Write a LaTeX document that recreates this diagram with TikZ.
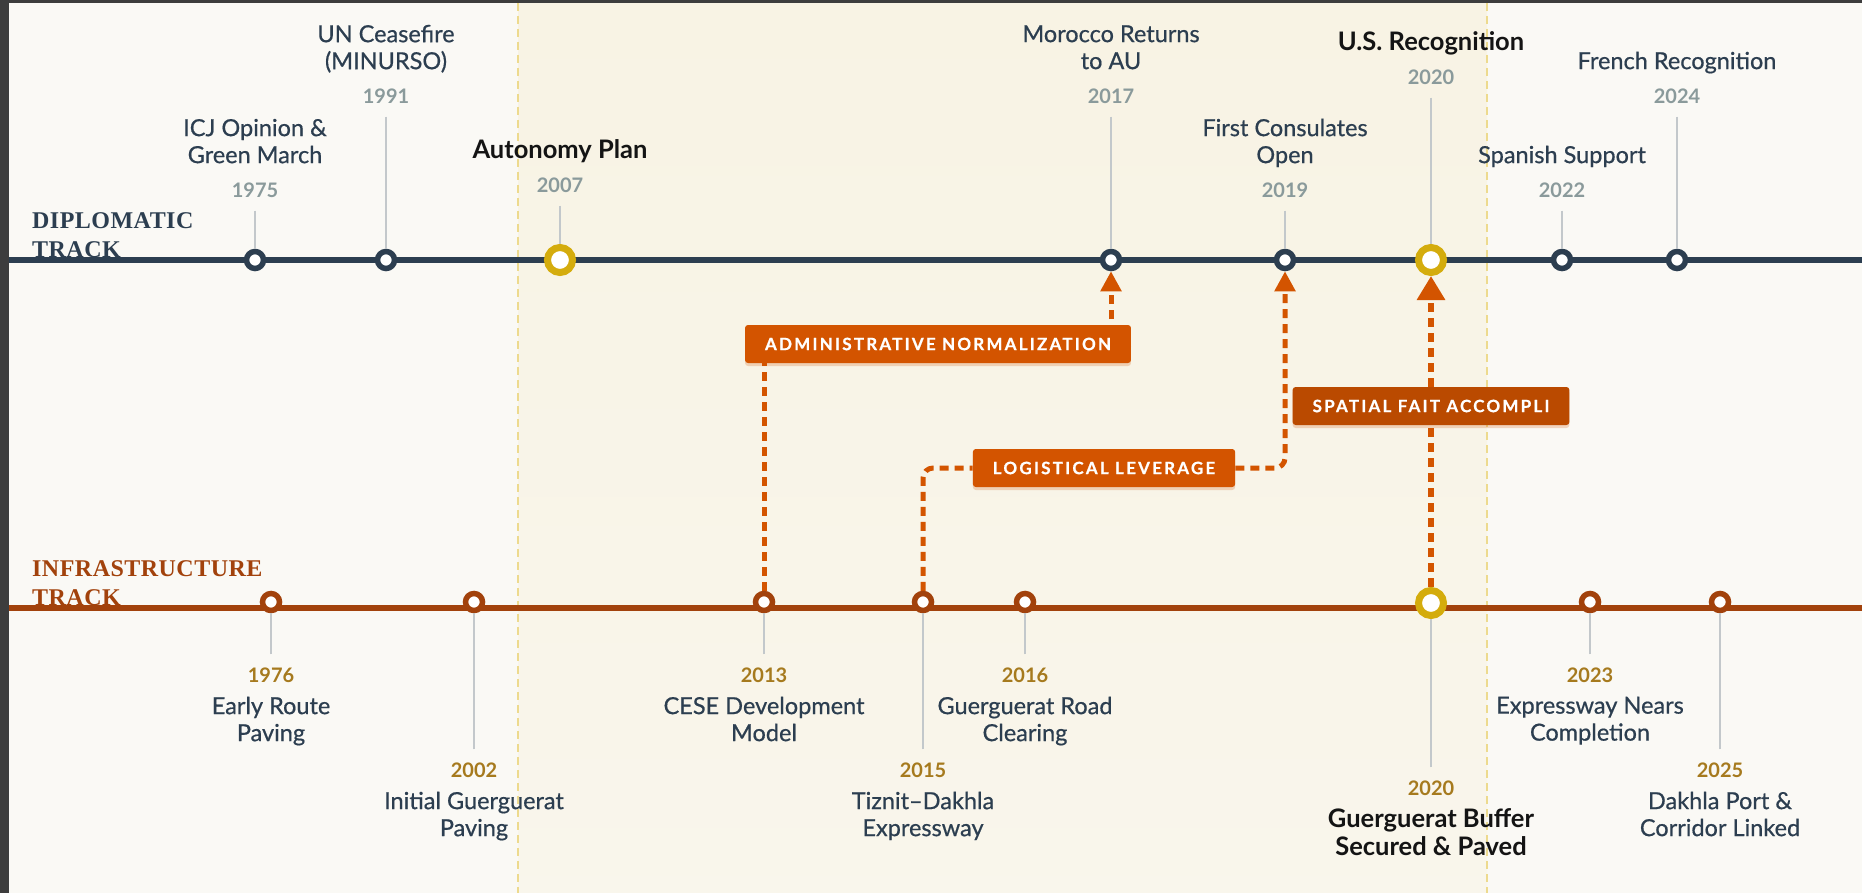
\documentclass[tikz,border=0pt]{standalone}
\usepackage{fontspec}
\setmainfont{Lato}
\newfontfamily\evfont[FakeBold=0.6]{Lato}
\newfontfamily\trackfont[LetterSpace=2]{Liberation Serif}
\newfontfamily\badgefont[LetterSpace=13,FakeBold=0.8]{Lato}
\usetikzlibrary{positioning,arrows.meta,shadows,backgrounds}
\definecolor{navy}{HTML}{2C3E50}
\definecolor{rust}{HTML}{A2420C}
\definecolor{gold}{HTML}{D4AC0D}
\definecolor{orng}{HTML}{D35400}
\definecolor{dorng}{HTML}{BA4A00}
\definecolor{stemgray}{HTML}{C3C8CB}
\definecolor{yeargray}{HTML}{8A9A9B}
\definecolor{yeargold}{HTML}{A67A1E}
\definecolor{paper}{HTML}{FAF9F5}
\definecolor{band}{HTML}{F8F3E4}
\definecolor{bandline}{HTML}{EDDA8E}
\definecolor{frame}{HTML}{3D3D3D}
\begin{document}
\begin{tikzpicture}[x=1pt,y=-1pt]
  \tikzstyle{dipdot}=[circle,draw=navy,fill=white,line width=5.5pt,minimum size=17pt,inner sep=0pt]
  \tikzstyle{infdot}=[dipdot,draw=rust]
  \tikzstyle{keydot}=[dipdot,draw=gold,line width=7pt,minimum size=25pt]
  \tikzstyle{stem}=[draw=stemgray,line width=2pt,shorten <=13pt]
  \tikzstyle{dyear}=[inner sep=0pt,font=\fontsize{20}{22}\selectfont\bfseries,text=yeargray]
  \tikzstyle{iyear}=[dyear,text=yeargold]
  \tikzstyle{event}=[inner sep=0pt,align=center,text=navy,font=\evfont\fontsize{23.5}{27}\selectfont,execute at begin node=\strut,execute at end node=\strut]
  \tikzstyle{keyevent}=[event,text=black!92,font=\fontsize{25.5}{28}\selectfont\bfseries]
  \tikzstyle{track}=[inner sep=0pt,align=left,anchor=south west,font=\trackfont\bfseries\fontsize{24}{29.5}\selectfont]
  \tikzstyle{badge}=[fill=orng,text=white,rounded corners=3pt,minimum height=38pt,inner xsep=20pt,font=\badgefont\bfseries\fontsize{17}{19}\selectfont,drop shadow={shadow xshift=0pt,shadow yshift=-3pt,opacity=.22,fill=orng}]
  \tikzstyle{link}=[draw=orng,line width=5pt,dash pattern=on 9pt off 6pt,-{Triangle[width=20pt,length=20pt]}]
  \tikzstyle{biglink}=[link,line width=6.5pt,-{Triangle[width=27pt,length=24pt]}]
  \useasboundingbox (0,0) rectangle (1862,893);
  \begin{scope}[on background layer]
    \fill[paper] (0,0) rectangle (1862,893);
    \shade[top color=band,bottom color=band!55!paper] (518,0) rectangle (1487,893);
    \draw[bandline,line width=2.5pt,dash pattern=on 8pt off 5pt] (518,3) -- (518,893);
    \draw[bandline,line width=2.5pt,dash pattern=on 8pt off 5pt] (1487,3) -- (1487,893);
    \fill[frame] (0,0) rectangle (1862,3);
    \fill[frame] (0,0) rectangle (9,893);
  \end{scope}

  \draw[navy,line width=5.5pt] (9,260) -- (1862,260);
  \draw[rust,line width=5.5pt] (9,608) -- (1862,608);
  \node[track,text=navy] (diptrack) at (32,258) {DIPLOMATIC\\TRACK};
  \node[track,text=rust] (inftrack) at (32,606) {INFRASTRUCTURE\\TRACK};

  \node[dipdot] (d75) at (255,260) {};
  \node[dipdot] (d91) at (386,260) {};
  \node[keydot] (d07) at (560,260) {};
  \node[dipdot] (d17) at (1111,260) {};
  \node[dipdot] (d19) at (1285,260) {};
  \node[keydot] (d20) at (1431,260) {};
  \node[dipdot] (d22) at (1562,260) {};
  \node[dipdot] (d24) at (1677,260) {};

  \node[dyear] (y75) at (255,190) {1975};
  \node[dyear] (y91) at (386,96) {1991};
  \node[dyear] (y07) at (560,185) {2007};
  \node[dyear] (y17) at (1111,96) {2017};
  \node[dyear] (y19) at (1285,190) {2019};
  \node[dyear] (y20) at (1431,77) {2020};
  \node[dyear] (y22) at (1562,190) {2022};
  \node[dyear] (y24) at (1677,96) {2024};

  \node[event,above=11pt of y75] (e75) {ICJ Opinion \&\\Green March};
  \node[event,above=11pt of y91] (e91) {UN Ceasefire\\(MINURSO)};
  \node[keyevent,above=10pt of y07] (e07) {Autonomy Plan};
  \node[event,above=11pt of y17] (e17) {Morocco Returns\\to AU};
  \node[event,above=11pt of y19] (e19) {First Consulates\\Open};
  \node[keyevent,above=10pt of y20] (e20) {U.S. Recognition};
  \node[event,above=11pt of y22] (e22) {Spanish Support};
  \node[event,above=11pt of y24] (e24) {French Recognition};

  \draw[stem] (y75) -- (d75);
  \draw[stem] (y91) -- (d91);
  \draw[stem] (y07) -- (d07);
  \draw[stem] (y17) -- (d17);
  \draw[stem] (y19) -- (d19);
  \draw[stem] (y20) -- (d20);
  \draw[stem] (y22) -- (d22);
  \draw[stem] (y24) -- (d24);

  \node[infdot] (i76) at (271,602) {};
  \node[infdot] (i02) at (474,602) {};
  \node[infdot] (i13) at (764,602) {};
  \node[infdot] (i15) at (923,602) {};
  \node[infdot] (i16) at (1025,602) {};
  \node[keydot] (i20) at (1431,603) {};
  \node[infdot] (i23) at (1590,602) {};
  \node[infdot] (i25) at (1720,602) {};

  \node[iyear] (z76) at (271,675) {1976};
  \node[iyear] (z02) at (474,770) {2002};
  \node[iyear] (z13) at (764,675) {2013};
  \node[iyear] (z15) at (923,770) {2015};
  \node[iyear] (z16) at (1025,675) {2016};
  \node[iyear] (z20) at (1431,788) {2020};
  \node[iyear] (z23) at (1590,675) {2023};
  \node[iyear] (z25) at (1720,770) {2025};

  \node[event,below=14pt of z76] (f76) {Early Route\\Paving};
  \node[event,below=14pt of z02] (f02) {Initial Guerguerat\\Paving};
  \node[event,below=14pt of z13] (f13) {CESE Development\\Model};
  \node[event,below=14pt of z15] (f15) {Tiznit–Dakhla\\Expressway};
  \node[event,below=14pt of z16] (f16) {Guerguerat Road\\Clearing};
  \node[keyevent,below=13pt of z20] (f20) {Guerguerat Buffer\\Secured \& Paved};
  \node[event,below=14pt of z23] (f23) {Expressway Nears\\Completion};
  \node[event,below=14pt of z25] (f25) {Dakhla Port \&\\Corridor Linked};

  \draw[stem] (z76) -- (i76);
  \draw[stem] (z02) -- (i02);
  \draw[stem] (z13) -- (i13);
  \draw[stem] (z15) -- (i15);
  \draw[stem] (z16) -- (i16);
  \draw[stem] (z20) -- (i20);
  \draw[stem] (z23) -- (i23);
  \draw[stem] (z25) -- (i25);

  \node[badge] (admin) at (938,344) {ADMINISTRATIVE NORMALIZATION};
  \node[badge] (logi) at (1104,468) {LOGISTICAL LEVERAGE};
  \node[badge,fill=dorng] (fait) at (1431,406) {SPATIAL FAIT ACCOMPLI};

  \begin{scope}[on background layer]
    \draw[link] (i13) |- (admin) -| (d17);
    \draw[link,rounded corners=10pt] (i15) |- (logi) -| (d19);
    \draw[biglink] (i20) -- (fait) -- (d20);
  \end{scope}
\end{tikzpicture}
\end{document}
